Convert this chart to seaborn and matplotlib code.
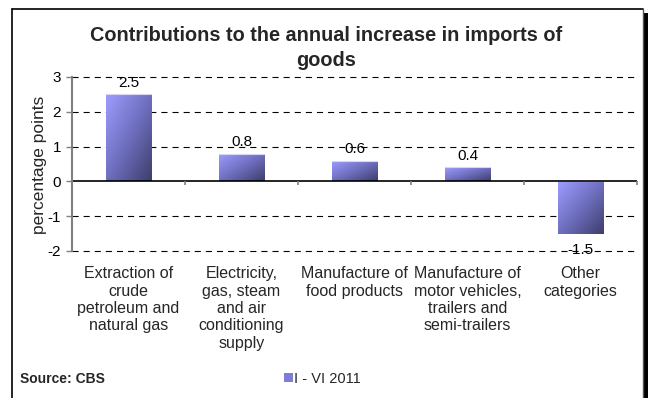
import numpy as np
import pandas as pd
import matplotlib
matplotlib.use("Agg")
import matplotlib.pyplot as plt
from matplotlib.patches import Rectangle
from matplotlib.colors import LinearSegmentedColormap
import seaborn as sns

# Data
categories = [
    "Extraction of\ncrude\npetroleum and\nnatural gas",
    "Electricity,\ngas, steam\nand air\nconditioning\nsupply",
    "Manufacture of\nfood products",
    "Manufacture of\nmotor vehicles,\ntrailers and\nsemi-trailers",
    "Other\ncategories",
]
values = [2.5, 0.8, 0.6, 0.4, -1.5]
value_labels = ["2.5", "0.8", "0.6", "0.4", "-1.5"]
series_name = "I - VI 2011"
y_ticks = [-2, -1, 0, 1, 2, 3]

df = pd.DataFrame({"category": categories, "value": values})

sns.set_theme(style="white")
plt.rcParams["font.family"] = ["Liberation Sans", "DejaVu Sans"]

W, H = 651, 398
fig = plt.figure(figsize=(W / 100, H / 100), dpi=100)
fig.patch.set_facecolor("white")

def fx(px):
    return px / W

def fy(py):
    return 1 - py / H

ax = fig.add_axes([fx(72), fy(251), fx(637) - fx(72), fy(77) - fy(251)])
ax.set_facecolor("white")

light = "#9d9dff"
dark = "#3e3e6c"
sns.barplot(data=df, x="category", y="value", color="#7777cc", width=0.4,
            saturation=1, ax=ax, label=series_name, zorder=3)

ax.set_ylim(-2, 3)
ax.set_xlim(-0.5, len(categories) - 0.5)
ax.set_yticks(y_ticks)
ax.set_yticklabels([str(t) for t in y_ticks], fontsize=11, color="black")

# dashed horizontal gridlines, solid zero line
for t in y_ticks:
    if t != 0:
        ax.axhline(t, color="black", lw=0.8, ls=(0, (5.5, 4.5)), zorder=1,
                   clip_on=False)
ax.axhline(0, color="black", lw=1.2, zorder=4)

# diagonal gradient fill on every bar
cmap = LinearSegmentedColormap.from_list("barfill", [light, "#6f6fc0", dark])
gx, gy = np.meshgrid(np.linspace(0, 1, 64), np.linspace(0, 1, 64))
grad = (gx + gy) / 2
for patch in ax.patches:
    x0, y0 = patch.get_x(), patch.get_y()
    w, h = patch.get_width(), patch.get_height()
    ybot, ytop = min(y0, y0 + h), max(y0, y0 + h)
    im = ax.imshow(grad, cmap=cmap, extent=[x0, x0 + w, ybot, ytop],
                   origin="upper", aspect="auto", zorder=3.5,
                   interpolation="bicubic")
    im.set_clip_path(patch)
    patch.set_edgecolor("none")
    ax.plot([x0, x0 + w], [ytop, ytop], color="#d8d8f4", lw=0.8, zorder=3.6)

# value labels
for i, (v, lab) in enumerate(zip(values, value_labels)):
    off = 3 if v >= 0 else -7
    ax.annotate(lab, (i, v), xytext=(0, off), textcoords="offset points",
                ha="center", va="bottom" if v >= 0 else "top",
                fontsize=11, color="black", zorder=6)

# axes styling
for s in ["top", "right", "bottom"]:
    ax.spines[s].set_visible(False)
ax.spines["left"].set_color("#808080")
ax.spines["left"].set_linewidth(1.5)
ax.spines["left"].set_zorder(5)
ax.tick_params(axis="y", direction="out", length=4, width=1, color="#808080",
               pad=4, left=True)
ax.tick_params(axis="x", length=0, pad=11)
ax.set_xticks(range(len(categories)))
ax.set_xticklabels(categories, fontsize=11.5, linespacing=1.2, va="top")
ax.set_xlabel("")
ax.set_ylabel("")
fig.text(fx(40), fy(165), "percentage points", rotation=90, ha="center",
         va="center", fontsize=12.5)

# category boundary ticks on the zero line
bounds = np.arange(len(categories) + 1) - 0.5
ax.vlines(bounds[1:], 0, -0.1, color="#808080", lw=1.2, zorder=4,
          clip_on=False)

# legend
leg = ax.legend(loc="center left", bbox_to_anchor=(fx(277), fy(379)),
                bbox_transform=fig.transFigure, frameon=False, fontsize=10.5,
                handlelength=0.6, handleheight=0.6, handletextpad=0.1,
                borderpad=0)
for h in leg.legend_handles:
    h.set_facecolor("#7d7dd6")

fig.text(fx(326), fy(48), "Contributions to the annual increase in imports of\ngoods",
         ha="center", va="center", fontsize=14.3, fontweight="bold",
         linespacing=1.4)
fig.text(fx(20), fy(379), "Source: CBS", ha="left", va="center",
         fontsize=10, fontweight="bold")

# outer frame with right-hand shadow
fig.add_artist(Rectangle((fx(643), 0), fx(648) - fx(643), fy(13),
                         transform=fig.transFigure, facecolor="black",
                         edgecolor="none"))
fig.add_artist(plt.Line2D([fx(12), fx(12)], [0, fy(9)], transform=fig.transFigure,
                          color="black", lw=1.2))
fig.add_artist(plt.Line2D([fx(12), fx(643)], [fy(9), fy(9)], transform=fig.transFigure,
                          color="black", lw=1.2))
fig.add_artist(plt.Line2D([fx(643), fx(643)], [0, fy(9)], transform=fig.transFigure,
                          color="#555555", lw=1.0))

fig.savefig("out.png", dpi=100, facecolor="white")
